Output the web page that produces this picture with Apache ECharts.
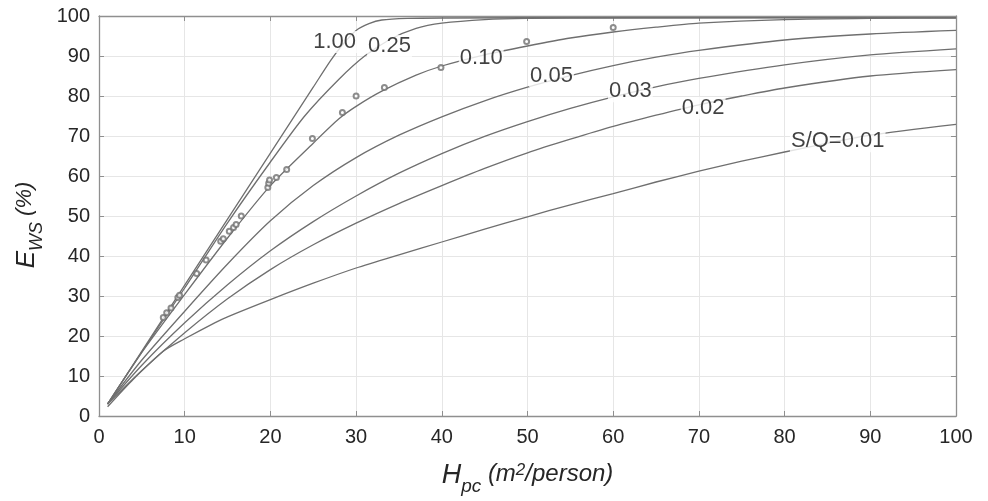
<!DOCTYPE html>
<html>
<head>
<meta charset="utf-8">
<script src="https://cdn.jsdelivr.net/npm/echarts@6/dist/echarts.min.js"></script>
<style>
html,body{margin:0;padding:0;background:#fff;}
#chart{width:988px;height:501px;}
</style>
</head>
<body>
<div id="chart"></div>
<script>
// ---- data ----
const xTicks = [0,10,20,30,40,50,60,70,80,90,100];
const yTicks = [0,10,20,30,40,50,60,70,80,90,100];

const sq100 = [[1,3],[5,16.2],[10,32.7],[15,49.2],[20,65.7],[25,82.2],[27,88.8],[28.5,93],[30,96.4],[31.5,98.1],[33,99],[36,99.4],[40,99.5],[60,99.6],[100,99.6]];
const sq025 = [[1,3],[5,16],[10,32],[15,48.3],[20,63.5],[24,75],[28,84.2],[31,90],[34,94.2],[37,96.9],[40,98.2],[45,99.1],[50,99.4],[60,99.5],[100,99.6]];
const sq010 = [[1,3],[5,15.9],[10,30.4],[15,44.5],[20,57.6],[25,68.2],[28,74.3],[30,77.4],[33,81.2],[37,85.2],[40,87.5],[45,90.3],[50,92.5],[55,94.5],[60,96],[65,97.2],[70,98.2],[80,99.1],[90,99.4],[100,99.5]];
const sq005 = [[1,3],[5,14],[10,26.2],[15,38],[20,48.8],[25,57.6],[30,64.6],[35,70.2],[40,74.8],[45,78.8],[50,82.2],[55,85.1],[60,87.6],[65,89.7],[70,91.4],[80,94],[90,95.5],[100,96.4]];
const sq003 = [[1,3],[5,12.7],[10,23.3],[15,32.8],[20,41.3],[25,48.6],[30,55],[35,60.7],[40,65.6],[45,69.9],[50,73.6],[55,76.9],[60,79.8],[65,82.3],[70,84.4],[80,87.8],[90,90.3],[100,91.8]];
const sq002 = [[1,3],[5,11.4],[10,20.8],[15,29.3],[20,36.6],[25,42.8],[30,48.2],[35,53.1],[40,57.6],[45,61.9],[50,65.8],[55,69.2],[60,72.4],[65,75.2],[70,77.8],[75,80],[80,82],[90,85],[100,86.6]];
const sq001 = [[1,2.3],[4,9.2],[7.5,16.2],[10,19.3],[13.5,23.3],[15,24.8],[20,29.1],[25,33.2],[30,37],[35,40.3],[40,43.5],[45,46.7],[50,49.8],[55,52.8],[60,55.6],[65,58.5],[70,61.2],[75,63.7],[80,66],[85,68.2],[90,70.2],[100,72.9]];

const observed = [[7.5,24.6],[7.9,25.8],[8.4,27.0],[9.2,29.6],[9.4,30.2],[11.4,35.6],[12.5,39.0],[14.2,43.7],[14.5,44.3],[15.2,46.2],[15.7,47.1],[16.0,47.9],[16.6,50.0],[19.7,57.1],[19.8,58.2],[19.9,59.0],[20.7,59.6],[21.9,61.6],[24.9,69.4],[28.4,75.9],[30.0,80.0],[33.3,82.1],[39.9,87.1],[49.9,93.6],[60.0,97.1]];

const contourLabels = ['1.00','0.25','0.10','0.05','0.03','0.02','S/Q=0.01'];
const labelX = [27.5,33.9,44.6,52.8,62.0,70.5,86.2];
const labelY = [93.5,92.5,89.5,85.0,81.2,77.0,68.7];

// ---- chart ----
const FONT = '"Liberation Sans", Arial, Helvetica, sans-serif';
const LINE = '#6f6f6f';
const TXT = '#262626';
const chart = echarts.init(document.getElementById('chart'), null, {renderer:'canvas'});

function curve(name, data){
  return {name, type:'line', data, xAxisIndex:0, yAxisIndex:0, showSymbol:false, symbol:'none',
    smooth:0.25, lineStyle:{color:LINE, width:1.3}, z:2, silent:true};
}

const axisLineStyle = {color:'#8f8f8f', width:1.3};
const tickStyle = {color:'#8f8f8f', width:1};

const option = {
  backgroundColor:'#fff',
  animation:false,
  grid:{left:99, right:32, top:16, bottom:84, containLabel:false},
  xAxis:[
    {type:'value', min:0, max:100, interval:10, position:'bottom',
     axisLine:{show:true, onZero:false, lineStyle:axisLineStyle},
     axisTick:{show:true, inside:true, length:5, lineStyle:tickStyle},
     splitLine:{show:true, lineStyle:{color:'#e6e6e6', width:1}},
     axisLabel:{show:true, margin:11, fontSize:20, color:TXT, fontFamily:FONT,
       customValues:xTicks},
     name:'{h|H}{s|pc}{n| (m}{sup|2}{n|/person)}',
     nameLocation:'middle', nameGap:46,
     nameTextStyle:{fontFamily:FONT, color:TXT,
       rich:{
         h:{fontSize:27, fontStyle:'italic', fontFamily:FONT, color:TXT, verticalAlign:'top', lineHeight:34},
         s:{fontSize:19, fontStyle:'italic', fontFamily:FONT, color:TXT, verticalAlign:'bottom', lineHeight:34, padding:[22,0,0,0]},
         n:{fontSize:24, fontStyle:'italic', fontFamily:FONT, color:TXT, verticalAlign:'top', lineHeight:34},
         sup:{fontSize:17, fontStyle:'italic', fontFamily:FONT, color:TXT, verticalAlign:'top', lineHeight:34, padding:[0,0,12,0]}
       }}
    },
    {type:'value', min:0, max:100, interval:10, position:'top',
     axisLine:{show:true, onZero:false, lineStyle:axisLineStyle},
     axisTick:{show:true, inside:true, length:5, lineStyle:tickStyle},
     splitLine:{show:false}, axisLabel:{show:false}}
  ],
  yAxis:[
    {type:'value', min:0, max:100, interval:10, position:'left',
     axisLine:{show:true, onZero:false, lineStyle:axisLineStyle},
     axisTick:{show:true, inside:true, length:5, lineStyle:tickStyle},
     splitLine:{show:true, lineStyle:{color:'#e6e6e6', width:1}},
     axisLabel:{show:true, margin:9, fontSize:20, color:TXT, fontFamily:FONT,
       customValues:yTicks},
     name:'{e|E}{s|WS}{n| (%)}',
     nameLocation:'middle', nameGap:52, nameRotate:90,
     nameTextStyle:{fontFamily:FONT, color:TXT, padding:[0,18,0,0],
       rich:{
         e:{fontSize:26, fontStyle:'italic', fontFamily:FONT, color:TXT, verticalAlign:'top', lineHeight:32},
         s:{fontSize:18, fontStyle:'italic', fontFamily:FONT, color:TXT, verticalAlign:'bottom', lineHeight:32, padding:[18,0,0,0]},
         n:{fontSize:22, fontStyle:'italic', fontFamily:FONT, color:TXT, verticalAlign:'top', lineHeight:32}
       }}
    },
    {type:'value', min:0, max:100, interval:10, position:'right',
     axisLine:{show:true, onZero:false, lineStyle:axisLineStyle},
     axisTick:{show:true, inside:true, length:5, lineStyle:tickStyle},
     splitLine:{show:false}, axisLabel:{show:false}}
  ],
  series:[
    curve('1.00', sq100),
    curve('0.25', sq025),
    curve('0.10', sq010),
    curve('0.05', sq005),
    curve('0.03', sq003),
    curve('0.02', sq002),
    curve('0.01', sq001),
    {name:'observed', type:'scatter', data:observed, symbol:'emptyCircle', symbolSize:5,
     itemStyle:{color:'#707070', borderColor:'#707070', borderWidth:1}, z:4, silent:true},
    {name:'labels', type:'scatter', symbolSize:0, z:5, silent:true,
     data: contourLabels.map((t,i)=>({name:t, value:[labelX[i], labelY[i]]})),
     label:{show:true, position:'inside', formatter:p=>p.name, fontSize:22, fontFamily:FONT,
       color:'#111', backgroundColor:'#fff', padding:[0,1,0,1]}}
  ]
};
chart.setOption(option);
</script>
</body>
</html>
